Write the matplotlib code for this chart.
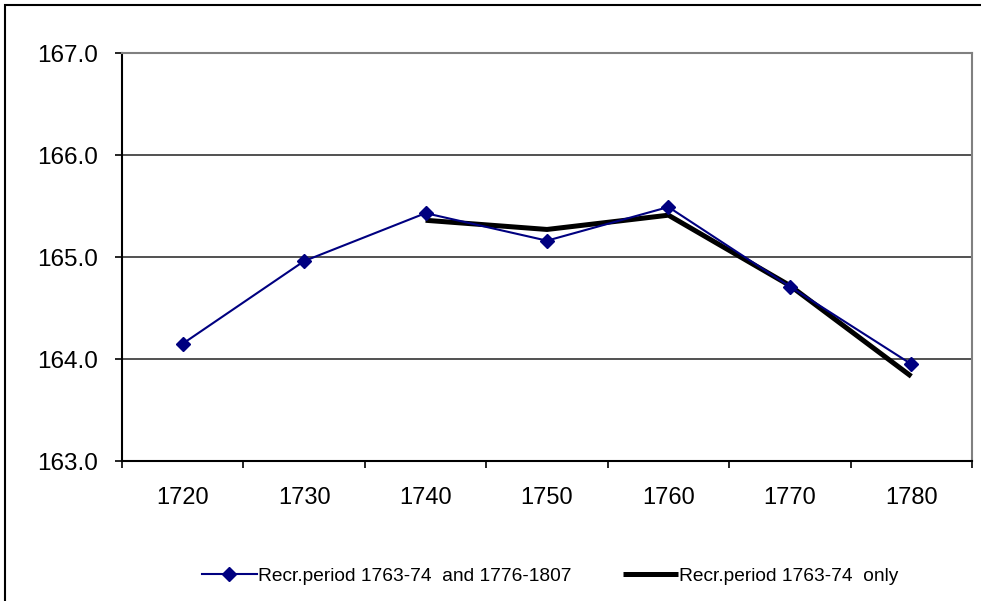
import matplotlib.pyplot as plt
import matplotlib.patches as mpatches
import numpy as np

# data
years = ['1720', '1730', '1740', '1750', '1760', '1770', '1780']
recr_both = [164.15, 164.96, 165.43, 165.16, 165.49, 164.71, 163.95]
recr_only_years = ['1740', '1750', '1760', '1770', '1780']
recr_only = [165.36, 165.27, 165.41, 164.72, 163.83]

label_both = 'Recr.period 1763-74  and 1776-1807'
label_only = 'Recr.period 1763-74  only'

plt.rcParams['font.family'] = ['Liberation Sans', 'DejaVu Sans']

W, H = 981, 601
fig = plt.figure(figsize=(W / 100, H / 100), dpi=100)
fig.patch.set_facecolor('white')

# outer chart border (only top/left visible)
fig.patches.append(mpatches.Rectangle((5 / W, -0.1), 1.2, (H - 5) / H + 0.1,
                                      transform=fig.transFigure, fill=False,
                                      edgecolor='black', linewidth=1.5))

ax = fig.add_axes([122 / W, (H - 461) / H, (972 - 122) / W, (461 - 53) / H])

x_all = np.arange(len(years))
x_only = [years.index(y) for y in recr_only_years]

ax.plot(x_only, recr_only, color='black', linewidth=3.6, label=label_only,
        solid_capstyle='butt', zorder=3)
ax.plot(x_all, recr_both, color='#000080', linewidth=1.5, marker='D',
        markersize=7, label=label_both, zorder=4)

ax.set_xlim(-0.5, len(years) - 0.5)
ax.set_ylim(163, 167)
ax.set_yticks(np.arange(163, 168, 1))
ax.set_yticklabels([f'{v:.1f}' for v in np.arange(163, 168, 1)])
ax.yaxis.grid(True, color='#333333', linewidth=1.2)
ax.set_axisbelow(True)

ax.set_xticks(x_all)
ax.set_xticklabels(years)
ax.set_xticks(np.arange(-0.5, len(years)), minor=True)
ax.tick_params(axis='x', which='major', length=0, pad=19, labelsize=17)
ax.tick_params(axis='x', which='minor', length=5, width=1.2, color='black')
ax.tick_params(axis='y', length=5, width=1.2, pad=12, labelsize=17.5)

ax.spines['left'].set_linewidth(1.5)
ax.spines['bottom'].set_linewidth(1.5)
ax.spines['top'].set_color('#808080')
ax.spines['right'].set_color('#808080')
ax.spines['top'].set_linewidth(1.5)
ax.spines['right'].set_linewidth(1.5)

handles, labels = ax.get_legend_handles_labels()
fig.legend(handles[::-1], labels[::-1], loc='center', ncol=2,
           bbox_to_anchor=(550 / W, 1 - 576 / H), frameon=False, fontsize=13.8,
           handlelength=2.85, handletextpad=0.05, columnspacing=2.7)

fig.savefig('out.png', dpi=100)
